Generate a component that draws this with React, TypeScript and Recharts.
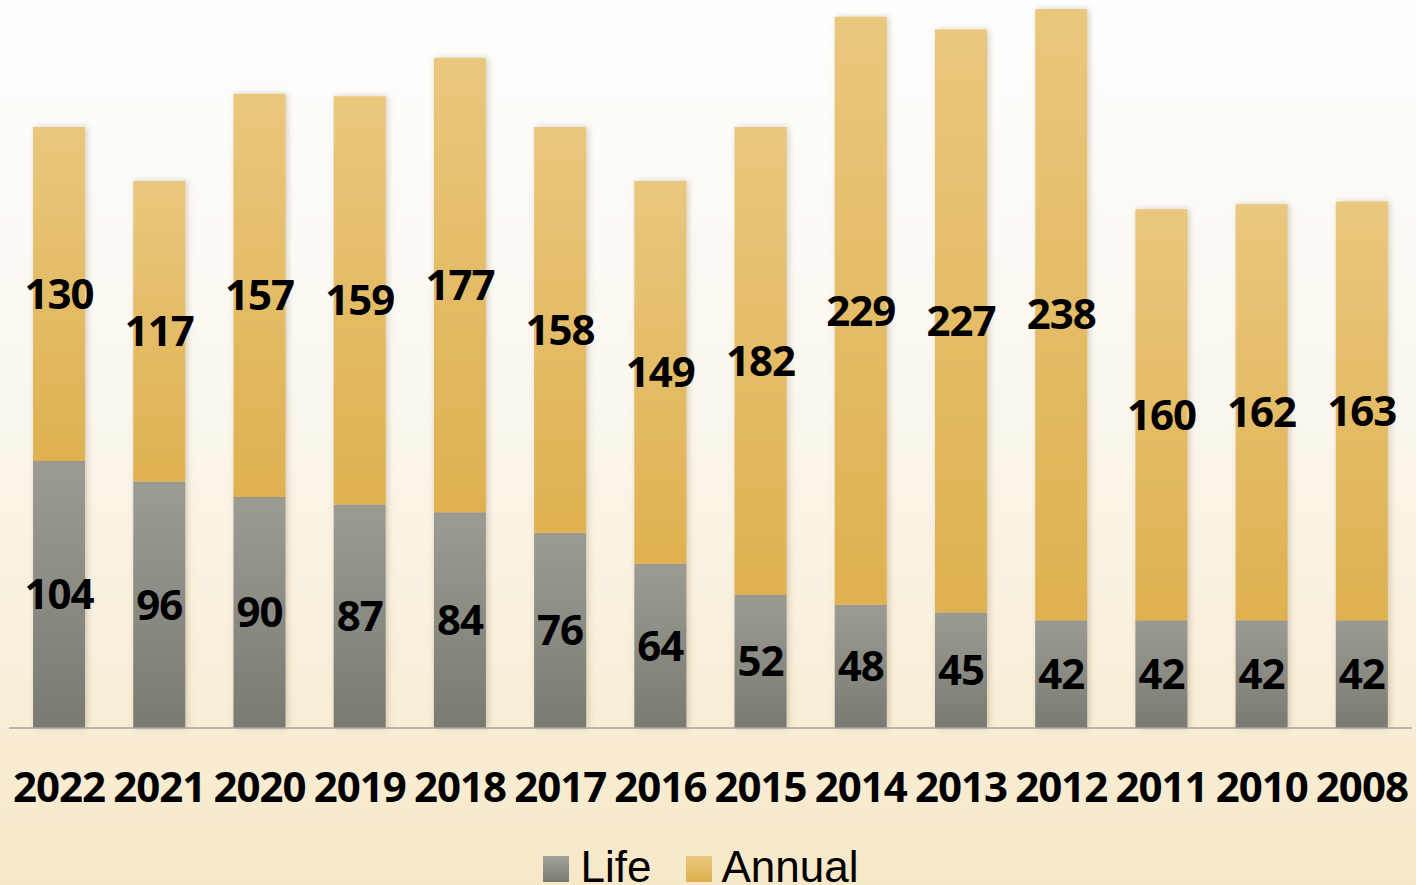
import React from "react";
import { BarChart, Bar, XAxis, YAxis, LabelList, Legend } from "recharts";

const years = ["2022", "2021", "2020", "2019", "2018", "2017", "2016", "2015", "2014", "2013", "2012", "2011", "2010", "2008"];
const lifeValues = [104, 96, 90, 87, 84, 76, 64, 52, 48, 45, 42, 42, 42, 42];
const annualValues = [130, 117, 157, 159, 177, 158, 149, 182, 229, 227, 238, 160, 162, 163];
const seriesNames = ["Life", "Annual"];

const data = years.map((y, i) => ({ year: y, life: lifeValues[i], annual: annualValues[i] }));

const labelStyle = { fontFamily: "'Open Sans', sans-serif", fontWeight: 700, fontSize: 42, letterSpacing: -1, fill: "#000" };

const legendSwatches = [
  "linear-gradient(#a2a29a, #7a7a72)",
  "linear-gradient(#eac87f, #ddb04e)",
];

const renderLegend = () => (
  <div
    style={{
      height: 40,
      display: "flex",
      justifyContent: "center",
      alignItems: "flex-end",
      paddingRight: 20,
      fontFamily: "'Liberation Sans', Arial, sans-serif",
      fontSize: 44,
      lineHeight: "44px",
      color: "#000",
      overflow: "visible",
    }}
  >
    {seriesNames.map((n, i) => (
      <div key={n} style={{ display: "flex", alignItems: "flex-end", marginRight: i === 0 ? 35 : 0, position: "relative", top: 4 }}>
        <div style={{ width: 26, height: 26, background: legendSwatches[i], marginRight: i === 0 ? 12 : 9, marginBottom: 7 }} />
        <span>{n}</span>
      </div>
    ))}
  </div>
);

export default function App() {
  return (
    <div
      style={{
        width: 1416,
        height: 885,
        overflow: "hidden",
        background: "linear-gradient(#fefefe 0%, #fbf7ef 45%, #f7e8c8 100%)",
      }}
    >
      <style>{"body{margin:0}"}</style>
      <BarChart width={1416} height={885} data={data} margin={{ top: 9, right: 4, left: 9, bottom: 0 }} barCategoryGap="24%">
        <defs>
          <linearGradient id="gLife" x1="0" y1="0" x2="0" y2="1">
            <stop offset="0%" stopColor="#9c9c94" />
            <stop offset="100%" stopColor="#797a72" />
          </linearGradient>
          <linearGradient id="gAnnual" x1="0" y1="0" x2="0" y2="1">
            <stop offset="0%" stopColor="#e9c77d" />
            <stop offset="100%" stopColor="#dfb150" />
          </linearGradient>
          <filter id="shadow" x="-30%" y="-5%" width="160%" height="110%">
            <feDropShadow dx="2" dy="0" stdDeviation="3" floodColor="#8a7a5a" floodOpacity="0.35" />
          </filter>
        </defs>
        <XAxis
          dataKey="year"
          tickLine={false}
          tickMargin={38}
          height={117}
          axisLine={{ stroke: "#a3a3a3", strokeWidth: 1.5 }}
          tick={labelStyle}
          interval={0}
        />
        <YAxis hide domain={[0, 280]} />
        <Legend verticalAlign="bottom" content={renderLegend} />
        <Bar dataKey="life" name="Life" stackId="a" fill="url(#gLife)" filter="url(#shadow)" isAnimationActive={false}>
          <LabelList dataKey="life" position="center" style={labelStyle} />
        </Bar>
        <Bar dataKey="annual" name="Annual" stackId="a" fill="url(#gAnnual)" filter="url(#shadow)" isAnimationActive={false}>
          <LabelList dataKey="annual" position="center" style={labelStyle} />
        </Bar>
      </BarChart>
    </div>
  );
}
